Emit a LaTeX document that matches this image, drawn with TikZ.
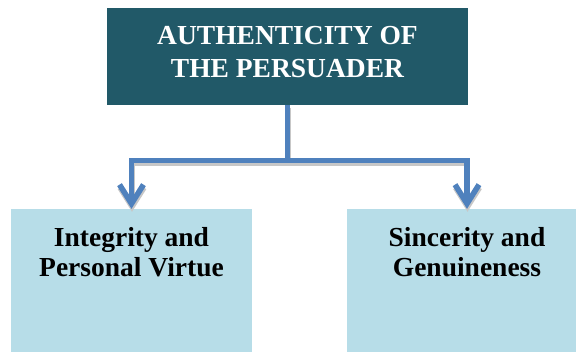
\documentclass[tikz,border=0pt]{standalone}
\usepackage{fontspec}
\setmainfont{Liberation Serif}
\usetikzlibrary{arrows.meta,positioning}
\definecolor{persuaderteal}{HTML}{215968}
\definecolor{traitblue}{HTML}{B7DDE8}
\definecolor{linkblue}{HTML}{4F81BD}
\begin{document}
\begin{tikzpicture}
      [x=1pt,y=-1pt,
      topbox/.style={fill=persuaderteal,minimum width=361pt,minimum height=97pt,inner sep=0pt},
      traitbox/.style={fill=traitblue,minimum width=241pt,minimum height=143pt,inner sep=0pt},
      toptext/.style={text=white,font=\bfseries\fontsize{27.5}{33}\selectfont,align=center,inner sep=0pt},
      traittext/.style={font=\bfseries\fontsize{27.5}{30}\selectfont,align=center,inner sep=0pt},
      link/.style={draw=linkblue,line width=5.5pt,line join=miter},
      linkshadow/.style={draw=black!22,line width=5.5pt,line join=miter,transform canvas={xshift=0.5pt,yshift=-3pt}},
      arrowed/.style={-{Straight Barb[length=19pt,width=24pt]}}]
      \clip (0,0) rectangle (576,352);
      % boxes
      \node[topbox] (authenticity) at (287.5,56.5) {};
      \node[toptext,below=18pt of authenticity.north] (authenticitytext) {AUTHENTICITY OF\\THE PERSUADER};
      \node[traitbox] (integrity) at (131.5,280.5) {};
      \node[traittext,below=18pt of integrity.north] (integritytext) {Integrity and\\Personal Virtue};
      \node[traitbox,minimum width=240pt] (sincerity) at (467,280.5) {};
      \node[traittext,below=18pt of sincerity.north] (sinceritytext) {Sincerity and\\Genuineness};
      % connectors
      \coordinate (split) at (287.5,160.5);
      \draw[linkshadow] (authenticity.south) -- (split);
      \draw[linkshadow,arrowed] (split) -| (integrity.north);
      \draw[linkshadow,arrowed] (split) -| (sincerity.north);
      \draw[link] (authenticity.south) -- (split);
      \draw[link,arrowed] (split) -| (integrity.north);
      \draw[link,arrowed] (split) -| (sincerity.north);
    \end{tikzpicture}
\end{document}
